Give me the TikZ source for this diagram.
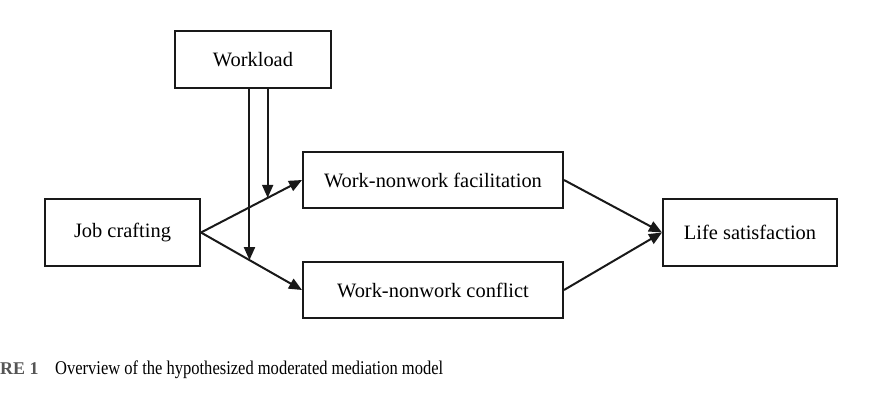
\documentclass[tikz,border=0pt]{standalone}
\usepackage{fontspec}
\setmainfont{Liberation Serif}
\usetikzlibrary{arrows.meta,calc}
\definecolor{capgray}{HTML}{555555}
\begin{document}
\begin{tikzpicture}[x=1bp,y=-1bp,
  box/.style={draw=black!90,line width=2bp,inner sep=0pt,font=\fontsize{20.5}{24}\selectfont},
  conn/.style={line width=2bp,black!90,-{Triangle[length=13bp,width=11bp]}}]
\useasboundingbox (0,0) rectangle (882,406);
\node[box,minimum width=156bp,minimum height=57bp] (wl) at (253,59.5) {Workload};
\node[box,minimum width=155bp,minimum height=67bp] (jc) at (122.5,232.5) {Job crafting};
\node[box,minimum width=260bp,minimum height=56bp] (wnf) at (433,180) {Work-nonwork facilitation};
\node[box,minimum width=260bp,minimum height=56bp] (wnc) at (433,290) {Work-nonwork conflict};
\node[box,minimum width=174bp,minimum height=67bp] (ls) at (750,232.5) {Life satisfaction};
\coordinate (m1) at ($(jc.east)!0.66!(wnf.west)$);
\coordinate (m2) at ($(jc.east)!0.48!(wnc.west)$);
\draw[conn] (jc.east) -- (wnf.west);
\draw[conn] (jc.east) -- (wnc.west);
\draw[conn] (wl.south -| m1) -- (m1);
\draw[conn] (wl.south -| m2) -- (m2);
\draw[conn] (wnf.east) -- (ls.west);
\draw[conn] (wnc.east) -- (ls.west);
\node[anchor=base west,inner sep=0pt,text=capgray,font=\fontsize{18}{22}\selectfont\bfseries] (fig) at (0,374) {RE 1};
\node[anchor=base west,inner sep=0pt,font=\fontsize{19.5}{22}\selectfont] (cap) at (55,374) {\scalebox{0.85}[1]{Overview of the hypothesized moderated mediation model}};
\end{tikzpicture}
\end{document}
